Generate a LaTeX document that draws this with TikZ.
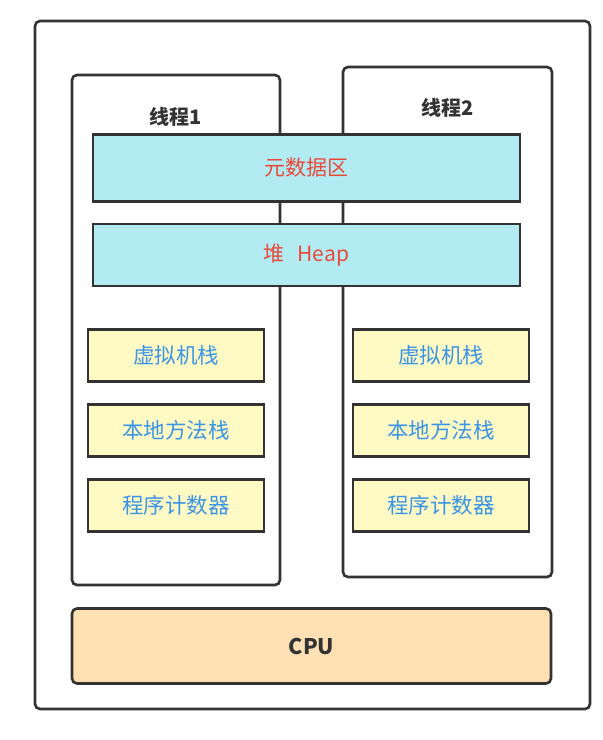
\documentclass[tikz,border=0pt]{standalone}
\usepackage{fontspec}
\setmainfont{Noto Sans CJK SC}
\definecolor{edge}{HTML}{333333}
\definecolor{cyanfill}{HTML}{B2EBF2}
\definecolor{yelfill}{HTML}{FFF9C4}
\definecolor{orgfill}{HTML}{FFE0B2}
\definecolor{redtxt}{HTML}{E9493A}
\definecolor{bluetxt}{HTML}{3A95E6}
\newcommand{\lowr}[1]{\raisebox{-1.5pt}{#1}}
\begin{document}
\begin{tikzpicture}[x=1pt,y=-1pt,
  frame/.style={draw=edge,line width=2.6pt,rounded corners=5pt,fill=white},
  membox/.style={draw=edge,line width=2.6pt,fill=cyanfill,text=redtxt,font=\fontsize{21}{25}\selectfont},
  stackbox/.style={draw=edge,line width=2.6pt,fill=yelfill,text=bluetxt,font=\fontsize{21.5}{25}\selectfont},
  title/.style={text=edge,font=\fontsize{20}{24}\selectfont\bfseries}]
\useasboundingbox (0,0) rectangle (603,740);
\draw[frame] (35,21) rectangle (590,709);
\draw[frame] (72,75) rectangle (280,585);
\draw[frame] (343,67) rectangle (552,577);
\node[title] (t1) at (176,117) {线程1};
\node[title] (t2) at (448,108) {线程2};
\node[membox,minimum width=427pt,minimum height=67pt] (meta) at (306.5,168) {\lowr{元数据区}};
\node[membox,minimum width=427pt,minimum height=62pt] (heap) at (306.5,255) {\lowr{堆\hspace{0.6em}Heap}};
\foreach \cx/\p in {176/l,441/r}{
  \node[stackbox,minimum width=176pt,minimum height=52pt] (vm\p) at (\cx,355.5) {\lowr{虚拟机栈}};
  \node[stackbox,minimum width=176pt,minimum height=52pt] (nm\p) at (\cx,430.5) {\lowr{本地方法栈}};
  \node[stackbox,minimum width=176pt,minimum height=52pt] (pc\p) at (\cx,505.5) {\lowr{程序计数器}};
}
\node[draw=edge,line width=2.6pt,rounded corners=5pt,fill=orgfill,minimum width=479pt,minimum height=75pt,text=edge,font=\fontsize{21.5}{25}\selectfont\bfseries] (cpu) at (311.5,646) {\lowr{CPU}};
\end{tikzpicture}
\end{document}
